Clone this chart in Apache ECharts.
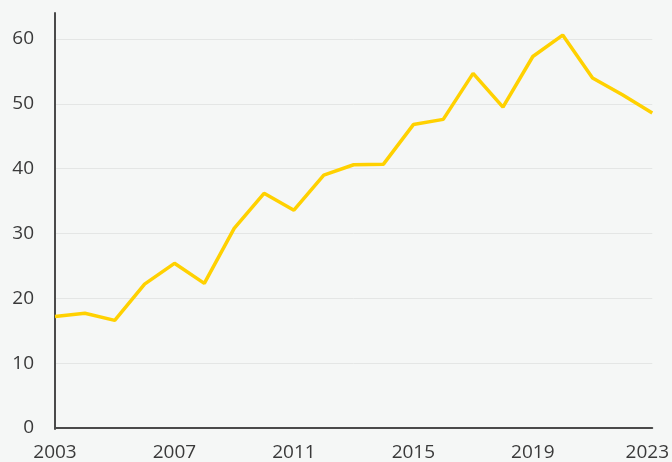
<!DOCTYPE html>
<html><head><meta charset="utf-8">
<script src="https://cdn.jsdelivr.net/npm/echarts@6/dist/echarts.min.js"></script>
<style>html,body{margin:0;padding:0;background:#f5f7f6;}#c{width:672px;height:462px;}</style>
</head><body><div id="c"></div>
<script>
var years = [2003,2004,2005,2006,2007,2008,2009,2010,2011,2012,2013,2014,2015,2016,2017,2018,2019,2020,2021,2022,2023];
var values = [17.2,17.7,16.6,22.2,25.4,22.3,30.8,36.2,33.6,39.0,40.6,40.7,46.8,47.6,54.7,49.5,57.3,60.6,54.0,51.4,48.6];
var yTicks = [0,10,20,30,40,50,60];
var xTicks = [2003,2007,2011,2015,2019,2023];

var chart = echarts.init(document.getElementById('c'));
var labelFont = {color:'#3a3a3a', fontSize:19, fontFamily:'Open Sans'};
chart.setOption({
  backgroundColor:'#f5f7f6',
  animation:false,
  grid:[
    {left:55, right:16, top:39, bottom:33},
    {left:55, right:16, top:13, bottom:33}
  ],
  xAxis:[
    {type:'value', gridIndex:0, min:years[0], max:years[years.length-1], interval:4,
     axisLine:{show:true, onZero:false, lineStyle:{color:'#4a4a4a', width:2}},
     axisTick:{show:false}, splitLine:{show:false},
     axisLabel:Object.assign({margin:15,
       formatter:function(v){
         if (xTicks.indexOf(v) < 0) return '';
         return v === xTicks[xTicks.length-1] ? '{r|' + v + '}' : String(v);
       },
       rich:{r:{color:'#3a3a3a', fontSize:19, fontFamily:'Open Sans', padding:[0,10,0,0]}}
     }, labelFont)},
    {type:'value', gridIndex:1, min:0, max:1, show:false}
  ],
  yAxis:[
    {type:'value', gridIndex:0, min:yTicks[0], max:yTicks[yTicks.length-1], interval:10,
     axisLine:{show:false}, axisTick:{show:false},
     splitLine:{show:true, lineStyle:{color:'#e4e6e5', width:1}},
     axisLabel:Object.assign({margin:21}, labelFont)},
    {type:'value', gridIndex:1, min:0, max:64,
     axisLine:{show:true, lineStyle:{color:'#4a4a4a', width:2}},
     axisTick:{show:false}, splitLine:{show:false}, axisLabel:{show:false}}
  ],
  series:[{
    type:'line', xAxisIndex:0, yAxisIndex:0, clip:false,
    data: years.map(function(y,i){return [y, values[i]];}),
    symbol:'none', lineStyle:{color:'#ffd100', width:3.5}
  }]
});
</script></body></html>
